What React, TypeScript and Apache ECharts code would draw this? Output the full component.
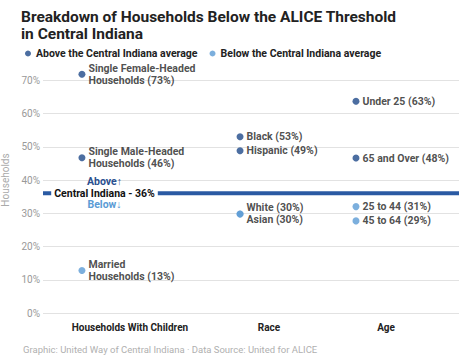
import React, { useEffect, useRef } from "react";
import * as echarts from "echarts";

const title = "Breakdown of Households Below the ALICE Threshold\nin Central Indiana";
const footer = "Graphic: United Way of Central Indiana \u00b7 Data Source: United for ALICE";
const seriesNames = ["Above the Central Indiana average", "Below the Central Indiana average"];
const groups = ["Households With Children", "Race", "Age"];
const groupPointX = [0.281, 1.421, 2.257];
const groupLabelX = [0.627, 1.63, 2.474];
const yTicks = [0, 10, 20, 30, 40, 50, 60, 70];
const average = 36;
const averageLabel = "Central Indiana - 36%";
const averageLabelX = 0.4435;

const pointLabels = [
  "Single Female-Headed\nHouseholds (73%)",
  "Single Male-Headed\nHouseholds (46%)",
  "Married\nHouseholds (13%)",
  "Black (53%)",
  "Hispanic (49%)",
  "White (30%)",
  "Asian (30%)",
  "Under 25 (63%)",
  "65 and Over (48%)",
  "25 to 44 (31%)",
  "45 to 64 (29%)",
];
const pointGroups = [0, 0, 0, 1, 1, 1, 1, 2, 2, 2, 2];
const pointValues = [71.8, 46.7, 12.8, 53.0, 48.8, 29.8, 29.8, 63.7, 46.6, 32.0, 27.7];

const DARK = "#1f4a8a";
const LIGHT = "#5b9bd5";
const labelShiftY: Record<string, number> = { "White (30%)": -6, "Asian (30%)": 6 };

export default function App() {
  const ref = useRef<HTMLDivElement>(null);
  useEffect(() => {
    if (!ref.current) return;
    const chart = echarts.init(ref.current, undefined, { renderer: "svg" });
    const mk = (above: boolean) =>
      pointValues
        .map((v, i) => ({ v, i }))
        .filter(({ v }) => (v > average) === above)
        .map(({ v, i }) => ({
          value: [groupPointX[pointGroups[i]], v],
          name: pointLabels[i],
          label: { offset: [0, labelShiftY[pointLabels[i]] || 0] },
        }));
    const labelStyle = {
      show: true,
      position: "right" as const,
      distance: 3,
      formatter: (p: any) => p.name,
      color: "#222",
      fontSize: 10.5,
      fontWeight: "bold" as any,
      fontFamily: "Roboto",
      lineHeight: 12.5,
    };
    const footerGraphic = {
      id: "footer",
      type: "text",
      left: 23,
      top: 344,
      style: { text: footer, fill: "#b0b0b0", fontSize: 9.5, fontFamily: "Roboto" },
    };
    chart.setOption({
      animation: false,
      textStyle: { fontFamily: "Roboto" },
      title: {
        text: title,
        left: 16,
        top: 3,
        textStyle: { fontSize: 15.5, fontWeight: "bold", color: "#222", lineHeight: 17.5, fontFamily: "Roboto" },
      },
      legend: {
        left: 20,
        top: 43,
        icon: "circle",
        itemWidth: 6,
        itemHeight: 6,
        itemGap: 12,
        data: seriesNames,
        textStyle: { fontSize: 10.5, fontWeight: "bold", color: "#222", fontFamily: "Roboto" },
      },
      grid: { left: 43, right: 15, top: 47, bottom: 45, containLabel: false, outerBoundsMode: "none" },
      xAxis: {
        type: "value",
        min: 0,
        max: 3,
        axisLine: { show: false },
        axisTick: { show: false },
        splitLine: { show: false },
        axisLabel: {
          customValues: groupLabelX,
          margin: 9,
          color: "#222",
          fontSize: 10,
          fontWeight: "bold",
          formatter: (val: number) => {
            let best = 0;
            groupLabelX.forEach((x, i) => {
              if (Math.abs(x - val) < Math.abs(groupLabelX[best] - val)) best = i;
            });
            return groups[best];
          },
        },
      },
      yAxis: {
        type: "value",
        min: 0,
        max: 80,
        interval: 10,
        name: "Households",
        nameLocation: "middle",
        nameGap: 31,
        nameTextStyle: { color: "#aaa", fontSize: 10 },
        axisLine: { show: false },
        axisTick: { show: false },
        axisLabel: {
          customValues: yTicks,
          color: "#999",
          fontSize: 10,
          margin: 3,
          formatter: "{value}%",
        },
        splitLine: { lineStyle: { color: "#e2e2e2", width: 1 }, showMaxLine: false },
      },
      series: [
        {
          type: "line",
          silent: true,
          symbol: "none",
          z: 1,
          lineStyle: { color: "#2a5aa3", width: 4 },
          data: [
            [0, average],
            [3, average],
          ],
        },
        {
          name: seriesNames[0],
          type: "scatter",
          symbolSize: 7,
          itemStyle: { color: DARK },
          label: labelStyle,
          data: mk(true),
          z: 3,
        },
        {
          name: seriesNames[1],
          type: "scatter",
          symbolSize: 7,
          itemStyle: { color: LIGHT },
          label: labelStyle,
          data: mk(false),
          z: 3,
        },
      ],
      graphic: [footerGraphic],
    });
    const pt = chart.convertToPixel({ gridIndex: 0 }, [averageLabelX, average]) as number[];
    chart.setOption({
      graphic: [
        footerGraphic,
        {
          id: "avgLabel",
          type: "text",
          x: pt[0],
          y: pt[1],
          z: 100,
          silent: true,
          style: {
            text: "{a|Above\u2191}\n{m|" + averageLabel + "}\n{b|Below\u2193}",
            align: "center",
            verticalAlign: "middle",
            rich: {
              a: { fill: "#2a4f8f", fontSize: 10.5, fontWeight: "bold", lineHeight: 11.5, fontFamily: "Roboto", align: "center" },
              m: {
                fill: "#111",
                fontSize: 10.5,
                fontWeight: "bold",
                lineHeight: 11.5,
                backgroundColor: "#fff",
                padding: [0, 3],
                fontFamily: "Roboto",
                align: "center",
              },
              b: { fill: "#5b9bd5", fontSize: 10.5, fontWeight: "bold", lineHeight: 11.5, fontFamily: "Roboto", align: "center" },
            },
          },
        },
      ],
    });
    return () => chart.dispose();
  }, []);
  return (
    <div
      ref={ref}
      style={{ position: "fixed", left: 0, top: 0, width: 474, height: 358, background: "#fff" }}
    />
  );
}
